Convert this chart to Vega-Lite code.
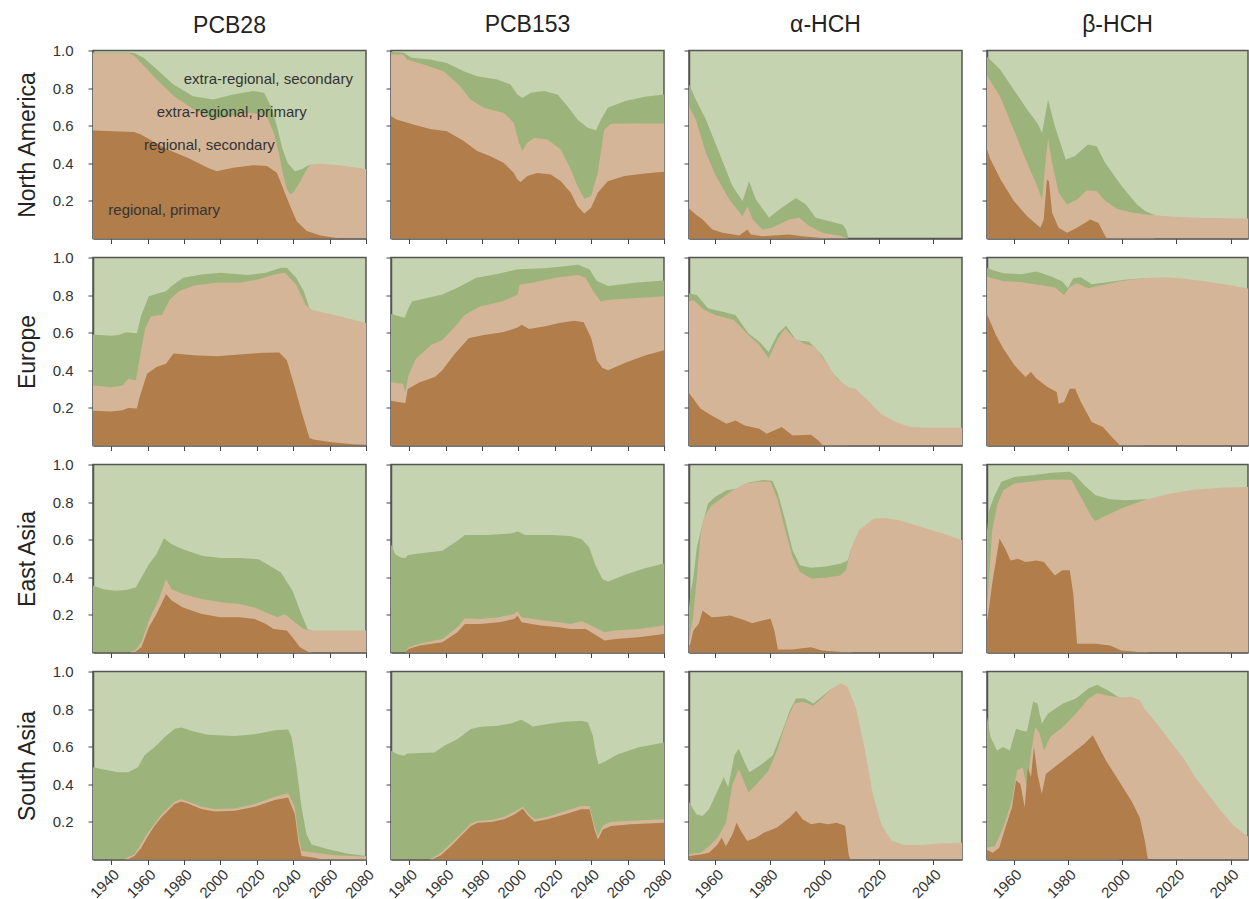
{
"$schema":"https://vega.github.io/schema/vega-lite/v6.json",
"padding":{"left":15,"top":12.5,"right":0,"bottom":0},
"background":"white",
"config":{"font":"Liberation Sans",
 "view":{"fill":"#c6d3b1","stroke":"#555","strokeWidth":1.5},
 "axis":{"domainColor":"#555","domainWidth":1.5,"tickColor":"#444","tickSize":5,"labelFontSize":15,"labelColor":"#333","labelFont":"Liberation Sans","titleFontSize":23,"titleFontWeight":"normal","titleColor":"#222","titleFont":"Liberation Sans","zindex":1,"grid":false},
 "axisY":{"labelPadding":15,"titlePadding":13},
 "title":{"fontSize":23,"fontWeight":"normal","color":"#222","font":"Liberation Sans","offset":13,"frame":"group"}},
"datasets":{
"labels":[{"label":"extra-regional, secondary","t":1979.8,"v":0.851},{"label":"extra-regional, primary","t":1965,"v":0.672},{"label":"regional, secondary","t":1958,"v":0.496},{"label":"regional, primary","t":1938.4,"v":0.15}],
"NA_PCB28":[
{"k":"g","t":1930,"v":0.99},{"k":"g","t":1950,"v":0.99},{"k":"g","t":1953,"v":0.985},{"k":"g","t":1958,"v":0.96},{"k":"g","t":1965,"v":0.9},{"k":"g","t":1974,"v":0.82},{"k":"g","t":1985,"v":0.757},{"k":"g","t":1996,"v":0.74},{"k":"g","t":2007,"v":0.766},{"k":"g","t":2018,"v":0.784},{"k":"g","t":2024,"v":0.775},{"k":"g","t":2028,"v":0.7},{"k":"g","t":2031,"v":0.6},{"k":"g","t":2034,"v":0.48},{"k":"g","t":2037,"v":0.4},{"k":"g","t":2041,"v":0.358},{"k":"g","t":2045,"v":0.37},{"k":"g","t":2049,"v":0.394},
{"k":"s","t":1930,"v":0.985},{"k":"s","t":1950,"v":0.985},{"k":"s","t":1953,"v":0.97},{"k":"s","t":1958,"v":0.917},{"k":"s","t":1965,"v":0.846},{"k":"s","t":1974.5,"v":0.757},{"k":"s","t":1985.5,"v":0.686},{"k":"s","t":1996.4,"v":0.633},{"k":"s","t":2003.7,"v":0.647},{"k":"s","t":2014.7,"v":0.669},{"k":"s","t":2023.8,"v":0.66},{"k":"s","t":2026,"v":0.64},{"k":"s","t":2029.3,"v":0.562},{"k":"s","t":2032,"v":0.46},{"k":"s","t":2034.7,"v":0.33},{"k":"s","t":2036.6,"v":0.26},{"k":"s","t":2038.5,"v":0.236},{"k":"s","t":2040,"v":0.245},{"k":"s","t":2043.8,"v":0.3},{"k":"s","t":2047,"v":0.36},{"k":"s","t":2049.3,"v":0.394},{"k":"s","t":2055,"v":0.398},{"k":"s","t":2065.7,"v":0.39},{"k":"s","t":2080,"v":0.37},
{"k":"p","t":1930,"v":0.574},{"k":"p","t":1952.5,"v":0.567},{"k":"p","t":1956,"v":0.555},{"k":"p","t":1971,"v":0.473},{"k":"p","t":1982,"v":0.43},{"k":"p","t":1993,"v":0.376},{"k":"p","t":1998,"v":0.358},{"k":"p","t":2007,"v":0.376},{"k":"p","t":2018,"v":0.39},{"k":"p","t":2025.6,"v":0.385},{"k":"p","t":2031,"v":0.35},{"k":"p","t":2034.7,"v":0.26},{"k":"p","t":2038.4,"v":0.17},{"k":"p","t":2042,"v":0.09},{"k":"p","t":2047.5,"v":0.04},{"k":"p","t":2055,"v":0.016},{"k":"p","t":2062,"v":0.005},{"k":"p","t":2066,"v":0}],
"NA_PCB153":[
{"k":"g","t":1930,"v":0.993},{"k":"g","t":1937,"v":0.988},{"k":"g","t":1941.4,"v":0.961},{"k":"g","t":1951.5,"v":0.952},{"k":"g","t":1960.7,"v":0.934},{"k":"g","t":1970,"v":0.89},{"k":"g","t":1977.3,"v":0.863},{"k":"g","t":1988.3,"v":0.846},{"k":"g","t":1995.7,"v":0.819},{"k":"g","t":1999.4,"v":0.766},{"k":"g","t":2002.2,"v":0.748},{"k":"g","t":2006.8,"v":0.775},{"k":"g","t":2014.1,"v":0.784},{"k":"g","t":2021.5,"v":0.766},{"k":"g","t":2027,"v":0.704},{"k":"g","t":2032.5,"v":0.633},{"k":"g","t":2038,"v":0.589},{"k":"g","t":2042.6,"v":0.576},{"k":"g","t":2045.4,"v":0.633},{"k":"g","t":2049.1,"v":0.695},{"k":"g","t":2058.3,"v":0.73},{"k":"g","t":2069.3,"v":0.754},{"k":"g","t":2080,"v":0.766},
{"k":"s","t":1930,"v":0.979},{"k":"s","t":1936.8,"v":0.979},{"k":"s","t":1938.7,"v":0.952},{"k":"s","t":1947.9,"v":0.926},{"k":"s","t":1958.9,"v":0.89},{"k":"s","t":1968.1,"v":0.81},{"k":"s","t":1973.6,"v":0.739},{"k":"s","t":1981,"v":0.695},{"k":"s","t":1992,"v":0.668},{"k":"s","t":1997.5,"v":0.615},{"k":"s","t":2000.3,"v":0.509},{"k":"s","t":2002.2,"v":0.465},{"k":"s","t":2004.9,"v":0.509},{"k":"s","t":2008.6,"v":0.535},{"k":"s","t":2015.9,"v":0.527},{"k":"s","t":2023.3,"v":0.473},{"k":"s","t":2028.8,"v":0.367},{"k":"s","t":2032.5,"v":0.278},{"k":"s","t":2036.2,"v":0.211},{"k":"s","t":2039.9,"v":0.225},{"k":"s","t":2043.6,"v":0.349},{"k":"s","t":2047.2,"v":0.58},{"k":"s","t":2050.9,"v":0.61},{"k":"s","t":2065.7,"v":0.612},{"k":"s","t":2080,"v":0.612},
{"k":"p","t":1930,"v":0.651},{"k":"p","t":1933,"v":0.633},{"k":"p","t":1942.3,"v":0.606},{"k":"p","t":1951.5,"v":0.583},{"k":"p","t":1960.7,"v":0.571},{"k":"p","t":1970,"v":0.518},{"k":"p","t":1977.3,"v":0.465},{"k":"p","t":1984.7,"v":0.438},{"k":"p","t":1992,"v":0.402},{"k":"p","t":1997.5,"v":0.349},{"k":"p","t":1999.4,"v":0.314},{"k":"p","t":2001.2,"v":0.3},{"k":"p","t":2004.9,"v":0.332},{"k":"p","t":2010.4,"v":0.349},{"k":"p","t":2017.8,"v":0.34},{"k":"p","t":2023.3,"v":0.305},{"k":"p","t":2028.8,"v":0.243},{"k":"p","t":2032.5,"v":0.172},{"k":"p","t":2036.2,"v":0.133},{"k":"p","t":2039.9,"v":0.163},{"k":"p","t":2043.6,"v":0.243},{"k":"p","t":2049.1,"v":0.305},{"k":"p","t":2058.3,"v":0.332},{"k":"p","t":2069.3,"v":0.346},{"k":"p","t":2080,"v":0.355}],
"NA_aHCH":[
{"k":"g","t":1950,"v":0.83},{"k":"g","t":1952.8,"v":0.739},{"k":"g","t":1956.5,"v":0.633},{"k":"g","t":1961.4,"v":0.456},{"k":"g","t":1966.3,"v":0.278},{"k":"g","t":1970,"v":0.199},{"k":"g","t":1972.4,"v":0.305},{"k":"g","t":1974.9,"v":0.207},{"k":"g","t":1979.8,"v":0.11},{"k":"g","t":1983.5,"v":0.154},{"k":"g","t":1989.6,"v":0.216},{"k":"g","t":1993.3,"v":0.181},{"k":"g","t":1996.9,"v":0.11},{"k":"g","t":2001.8,"v":0.092},{"k":"g","t":2006.7,"v":0.074},{"k":"g","t":2008,"v":0.05},{"k":"g","t":2009,"v":0},
{"k":"s","t":1950,"v":0.71},{"k":"s","t":1952.8,"v":0.633},{"k":"s","t":1956.5,"v":0.456},{"k":"s","t":1960.2,"v":0.332},{"k":"s","t":1965.1,"v":0.207},{"k":"s","t":1970,"v":0.119},{"k":"s","t":1971.8,"v":0.172},{"k":"s","t":1973.7,"v":0.101},{"k":"s","t":1977.3,"v":0.048},{"k":"s","t":1981,"v":0.057},{"k":"s","t":1987.1,"v":0.101},{"k":"s","t":1990.8,"v":0.11},{"k":"s","t":1994.5,"v":0.066},{"k":"s","t":1999.4,"v":0.03},{"k":"s","t":2005.5,"v":0.016},{"k":"s","t":2008,"v":0.004},{"k":"s","t":2009,"v":0},
{"k":"p","t":1950,"v":0.163},{"k":"p","t":1952.8,"v":0.128},{"k":"p","t":1955.3,"v":0.101},{"k":"p","t":1958.9,"v":0.048},{"k":"p","t":1962.6,"v":0.03},{"k":"p","t":1968.8,"v":0.016},{"k":"p","t":1971.8,"v":0.048},{"k":"p","t":1973,"v":0.021},{"k":"p","t":1977.3,"v":0.012},{"k":"p","t":1987.1,"v":0.021},{"k":"p","t":1992,"v":0.012},{"k":"p","t":1998.2,"v":0.004},{"k":"p","t":2000,"v":0}],
"NA_bHCH":[
{"k":"g","t":1950,"v":0.97},{"k":"g","t":1955,"v":0.9},{"k":"g","t":1960,"v":0.793},{"k":"g","t":1965,"v":0.686},{"k":"g","t":1968.7,"v":0.615},{"k":"g","t":1970.5,"v":0.562},{"k":"g","t":1972.7,"v":0.739},{"k":"g","t":1975.2,"v":0.598},{"k":"g","t":1979.2,"v":0.42},{"k":"g","t":1982.5,"v":0.438},{"k":"g","t":1987.4,"v":0.5},{"k":"g","t":1990.6,"v":0.491},{"k":"g","t":1993.8,"v":0.402},{"k":"g","t":1999.9,"v":0.278},{"k":"g","t":2005.5,"v":0.181},{"k":"g","t":2008.6,"v":0.145},{"k":"g","t":2012,"v":0.125},
{"k":"s","t":1950,"v":0.872},{"k":"s","t":1955.2,"v":0.75},{"k":"s","t":1960,"v":0.58},{"k":"s","t":1965,"v":0.402},{"k":"s","t":1968.7,"v":0.278},{"k":"s","t":1970.5,"v":0.207},{"k":"s","t":1971.5,"v":0.367},{"k":"s","t":1972.7,"v":0.535},{"k":"s","t":1974.2,"v":0.402},{"k":"s","t":1976.6,"v":0.243},{"k":"s","t":1979.7,"v":0.181},{"k":"s","t":1983.4,"v":0.207},{"k":"s","t":1987,"v":0.257},{"k":"s","t":1990.6,"v":0.252},{"k":"s","t":1993.8,"v":0.199},{"k":"s","t":1998.1,"v":0.158},{"k":"s","t":2003,"v":0.14},{"k":"s","t":2009,"v":0.128},{"k":"s","t":2016.5,"v":0.119},{"k":"s","t":2027.5,"v":0.11},{"k":"s","t":2047,"v":0.106},
{"k":"p","t":1950,"v":0.482},{"k":"p","t":1951.5,"v":0.42},{"k":"p","t":1955.2,"v":0.314},{"k":"p","t":1960.1,"v":0.199},{"k":"p","t":1965,"v":0.119},{"k":"p","t":1969.9,"v":0.057},{"k":"p","t":1971.1,"v":0.101},{"k":"p","t":1972.3,"v":0.314},{"k":"p","t":1973,"v":0.305},{"k":"p","t":1974.2,"v":0.137},{"k":"p","t":1976.6,"v":0.057},{"k":"p","t":1979.7,"v":0.03},{"k":"p","t":1983.4,"v":0.057},{"k":"p","t":1988.3,"v":0.101},{"k":"p","t":1991.3,"v":0.083},{"k":"p","t":1993.8,"v":0.012},{"k":"p","t":1994.5,"v":0}],
"EU_PCB28":[
{"k":"g","t":1930,"v":0.591},{"k":"g","t":1940,"v":0.584},{"k":"g","t":1944,"v":0.588},{"k":"g","t":1948.3,"v":0.602},{"k":"g","t":1954.1,"v":0.597},{"k":"g","t":1956.6,"v":0.695},{"k":"g","t":1960.7,"v":0.794},{"k":"g","t":1967,"v":0.812},{"k":"g","t":1970.1,"v":0.821},{"k":"g","t":1973.2,"v":0.848},{"k":"g","t":1979.5,"v":0.892},{"k":"g","t":1989.8,"v":0.91},{"k":"g","t":2000.2,"v":0.919},{"k":"g","t":2014.7,"v":0.907},{"k":"g","t":2025,"v":0.919},{"k":"g","t":2033.3,"v":0.946},{"k":"g","t":2036.5,"v":0.946},{"k":"g","t":2041.6,"v":0.892},{"k":"g","t":2045.8,"v":0.821},{"k":"g","t":2048.9,"v":0.731},{"k":"g","t":2050,"v":0.722},
{"k":"s","t":1930,"v":0.319},{"k":"s","t":1940,"v":0.31},{"k":"s","t":1946.2,"v":0.319},{"k":"s","t":1949.3,"v":0.355},{"k":"s","t":1953.5,"v":0.346},{"k":"s","t":1955.6,"v":0.462},{"k":"s","t":1958.7,"v":0.624},{"k":"s","t":1961.8,"v":0.686},{"k":"s","t":1968,"v":0.695},{"k":"s","t":1972.2,"v":0.776},{"k":"s","t":1977.3,"v":0.821},{"k":"s","t":1985.6,"v":0.851},{"k":"s","t":1998.1,"v":0.866},{"k":"s","t":2010.5,"v":0.866},{"k":"s","t":2020.9,"v":0.884},{"k":"s","t":2031.3,"v":0.914},{"k":"s","t":2035.4,"v":0.919},{"k":"s","t":2041.6,"v":0.857},{"k":"s","t":2046.8,"v":0.749},{"k":"s","t":2049.9,"v":0.722},{"k":"s","t":2064.5,"v":0.69},{"k":"s","t":2080,"v":0.651},
{"k":"p","t":1930,"v":0.185},{"k":"p","t":1940,"v":0.181},{"k":"p","t":1946.2,"v":0.188},{"k":"p","t":1949.3,"v":0.2},{"k":"p","t":1954.1,"v":0.197},{"k":"p","t":1955.6,"v":0.256},{"k":"p","t":1959.7,"v":0.382},{"k":"p","t":1964.9,"v":0.418},{"k":"p","t":1970.1,"v":0.435},{"k":"p","t":1974.2,"v":0.489},{"k":"p","t":1985.6,"v":0.48},{"k":"p","t":1998.1,"v":0.475},{"k":"p","t":2010.5,"v":0.484},{"k":"p","t":2023,"v":0.493},{"k":"p","t":2032.3,"v":0.495},{"k":"p","t":2036.5,"v":0.453},{"k":"p","t":2040.6,"v":0.319},{"k":"p","t":2044.7,"v":0.176},{"k":"p","t":2048.9,"v":0.041},{"k":"p","t":2051,"v":0.032},{"k":"p","t":2060.3,"v":0.018},{"k":"p","t":2072.8,"v":0.007},{"k":"p","t":2080,"v":0.004}],
"EU_PCB153":[
{"k":"g","t":1930,"v":0.7},{"k":"g","t":1933.4,"v":0.69},{"k":"g","t":1937.5,"v":0.68},{"k":"g","t":1939.6,"v":0.731},{"k":"g","t":1941.7,"v":0.767},{"k":"g","t":1949.9,"v":0.785},{"k":"g","t":1958.2,"v":0.803},{"k":"g","t":1966.5,"v":0.839},{"k":"g","t":1976.9,"v":0.892},{"k":"g","t":1987.2,"v":0.91},{"k":"g","t":1999.6,"v":0.937},{"k":"g","t":2014.1,"v":0.943},{"k":"g","t":2026.6,"v":0.955},{"k":"g","t":2032.8,"v":0.961},{"k":"g","t":2039,"v":0.937},{"k":"g","t":2043.1,"v":0.875},{"k":"g","t":2049.3,"v":0.848},{"k":"g","t":2063.8,"v":0.866},{"k":"g","t":2080,"v":0.878},
{"k":"s","t":1930,"v":0.337},{"k":"s","t":1936.5,"v":0.328},{"k":"s","t":1937.9,"v":0.283},{"k":"s","t":1939.6,"v":0.373},{"k":"s","t":1943.7,"v":0.462},{"k":"s","t":1952,"v":0.534},{"k":"s","t":1958.2,"v":0.561},{"k":"s","t":1964.4,"v":0.624},{"k":"s","t":1970.6,"v":0.695},{"k":"s","t":1978.9,"v":0.74},{"k":"s","t":1991.4,"v":0.767},{"k":"s","t":1999.6,"v":0.803},{"k":"s","t":2000.7,"v":0.857},{"k":"s","t":2007.9,"v":0.866},{"k":"s","t":2020.3,"v":0.892},{"k":"s","t":2032.8,"v":0.907},{"k":"s","t":2036.9,"v":0.892},{"k":"s","t":2041.1,"v":0.821},{"k":"s","t":2045.2,"v":0.767},{"k":"s","t":2051.4,"v":0.776},{"k":"s","t":2065.9,"v":0.785},{"k":"s","t":2080,"v":0.794},
{"k":"p","t":1930,"v":0.238},{"k":"p","t":1935.4,"v":0.229},{"k":"p","t":1937.9,"v":0.226},{"k":"p","t":1939.2,"v":0.301},{"k":"p","t":1945.8,"v":0.337},{"k":"p","t":1954.1,"v":0.364},{"k":"p","t":1958.2,"v":0.4},{"k":"p","t":1964.4,"v":0.48},{"k":"p","t":1972.7,"v":0.57},{"k":"p","t":1981,"v":0.588},{"k":"p","t":1991.4,"v":0.602},{"k":"p","t":1999.6,"v":0.627},{"k":"p","t":2001.7,"v":0.642},{"k":"p","t":2005.9,"v":0.62},{"k":"p","t":2014.1,"v":0.633},{"k":"p","t":2022.4,"v":0.651},{"k":"p","t":2030.7,"v":0.663},{"k":"p","t":2035.9,"v":0.656},{"k":"p","t":2040,"v":0.57},{"k":"p","t":2043.1,"v":0.453},{"k":"p","t":2046.2,"v":0.412},{"k":"p","t":2049.3,"v":0.4},{"k":"p","t":2059.7,"v":0.444},{"k":"p","t":2070,"v":0.48},{"k":"p","t":2080,"v":0.507}],
"EU_aHCH":[
{"k":"g","t":1950,"v":0.81},{"k":"g","t":1953.2,"v":0.801},{"k":"g","t":1957.3,"v":0.73},{"k":"g","t":1962.7,"v":0.712},{"k":"g","t":1967.4,"v":0.694},{"k":"g","t":1972.2,"v":0.596},{"k":"g","t":1976.2,"v":0.552},{"k":"g","t":1979.6,"v":0.498},{"k":"g","t":1983,"v":0.596},{"k":"g","t":1986,"v":0.637},{"k":"g","t":1989.8,"v":0.56},{"k":"g","t":1994.5,"v":0.552},{"k":"g","t":1999.2,"v":0.48},{"k":"g","t":2003.3,"v":0.383},{"k":"g","t":2007.4,"v":0.32},{"k":"g","t":2008.7,"v":0.311},
{"k":"s","t":1950,"v":0.765},{"k":"s","t":1951.9,"v":0.774},{"k":"s","t":1955.9,"v":0.721},{"k":"s","t":1960,"v":0.694},{"k":"s","t":1966.8,"v":0.667},{"k":"s","t":1972.2,"v":0.587},{"k":"s","t":1976.2,"v":0.534},{"k":"s","t":1979.6,"v":0.463},{"k":"s","t":1983,"v":0.569},{"k":"s","t":1985.7,"v":0.623},{"k":"s","t":1988.4,"v":0.578},{"k":"s","t":1992.5,"v":0.543},{"k":"s","t":1996.5,"v":0.525},{"k":"s","t":2000.6,"v":0.445},{"k":"s","t":2004.7,"v":0.356},{"k":"s","t":2008.7,"v":0.311},{"k":"s","t":2011.4,"v":0.302},{"k":"s","t":2015.5,"v":0.249},{"k":"s","t":2020.9,"v":0.169},{"k":"s","t":2026.3,"v":0.125},{"k":"s","t":2031.7,"v":0.098},{"k":"s","t":2038.5,"v":0.094},{"k":"s","t":2051,"v":0.094},
{"k":"p","t":1950,"v":0.285},{"k":"p","t":1951.9,"v":0.249},{"k":"p","t":1954.6,"v":0.196},{"k":"p","t":1958.6,"v":0.16},{"k":"p","t":1964.1,"v":0.116},{"k":"p","t":1967.4,"v":0.133},{"k":"p","t":1970.8,"v":0.107},{"k":"p","t":1976.2,"v":0.089},{"k":"p","t":1978.9,"v":0.062},{"k":"p","t":1984.4,"v":0.098},{"k":"p","t":1988.4,"v":0.053},{"k":"p","t":1995.2,"v":0.057},{"k":"p","t":1997.9,"v":0.027},{"k":"p","t":1999.5,"v":0}],
"EU_bHCH":[
{"k":"g","t":1950,"v":0.947},{"k":"g","t":1952.1,"v":0.934},{"k":"g","t":1956.2,"v":0.916},{"k":"g","t":1963,"v":0.911},{"k":"g","t":1968.4,"v":0.925},{"k":"g","t":1973.9,"v":0.899},{"k":"g","t":1978,"v":0.872},{"k":"g","t":1980,"v":0.836},{"k":"g","t":1982,"v":0.89},{"k":"g","t":1984.8,"v":0.895},{"k":"g","t":1988.8,"v":0.858},{"k":"g","t":1994.3,"v":0.868},{"k":"g","t":2001.1,"v":0.881},{"k":"g","t":2007.9,"v":0.89},
{"k":"s","t":1950,"v":0.899},{"k":"s","t":1956.2,"v":0.875},{"k":"s","t":1963,"v":0.868},{"k":"s","t":1969.8,"v":0.854},{"k":"s","t":1975.2,"v":0.84},{"k":"s","t":1978.6,"v":0.801},{"k":"s","t":1980.7,"v":0.845},{"k":"s","t":1983.4,"v":0.863},{"k":"s","t":1987.5,"v":0.836},{"k":"s","t":1992.9,"v":0.854},{"k":"s","t":1999.7,"v":0.875},{"k":"s","t":2007.9,"v":0.89},{"k":"s","t":2014.7,"v":0.895},{"k":"s","t":2021.5,"v":0.89},{"k":"s","t":2029.7,"v":0.875},{"k":"s","t":2037.8,"v":0.858},{"k":"s","t":2047,"v":0.833},
{"k":"p","t":1950,"v":0.703},{"k":"p","t":1951.4,"v":0.658},{"k":"p","t":1953.5,"v":0.587},{"k":"p","t":1956.2,"v":0.516},{"k":"p","t":1960.3,"v":0.427},{"k":"p","t":1964.4,"v":0.365},{"k":"p","t":1966.4,"v":0.391},{"k":"p","t":1968.4,"v":0.356},{"k":"p","t":1972.5,"v":0.311},{"k":"p","t":1975.9,"v":0.285},{"k":"p","t":1976.6,"v":0.222},{"k":"p","t":1978.6,"v":0.231},{"k":"p","t":1980.7,"v":0.302},{"k":"p","t":1982.7,"v":0.302},{"k":"p","t":1984.8,"v":0.231},{"k":"p","t":1988.8,"v":0.125},{"k":"p","t":1992.9,"v":0.098},{"k":"p","t":1996.3,"v":0.044},{"k":"p","t":1999,"v":0.004},{"k":"p","t":2000,"v":0}],
"EA_PCB28":[
{"k":"g","t":1930,"v":0.355},{"k":"g","t":1935.9,"v":0.337},{"k":"g","t":1942.1,"v":0.329},{"k":"g","t":1948.3,"v":0.332},{"k":"g","t":1953.5,"v":0.346},{"k":"g","t":1956.6,"v":0.399},{"k":"g","t":1960.7,"v":0.47},{"k":"g","t":1964.9,"v":0.523},{"k":"g","t":1969,"v":0.608},{"k":"g","t":1973.2,"v":0.576},{"k":"g","t":1979.4,"v":0.549},{"k":"g","t":1989.8,"v":0.514},{"k":"g","t":2000.2,"v":0.502},{"k":"g","t":2010.5,"v":0.502},{"k":"g","t":2020.9,"v":0.496},{"k":"g","t":2027.1,"v":0.461},{"k":"g","t":2033.3,"v":0.426},{"k":"g","t":2039.6,"v":0.329},{"k":"g","t":2043.7,"v":0.223},{"k":"g","t":2047.9,"v":0.125},{"k":"g","t":2050.3,"v":0.117},
{"k":"s","t":1950,"v":0},{"k":"s","t":1953.5,"v":0.014},{"k":"s","t":1956.6,"v":0.055},{"k":"s","t":1960.7,"v":0.17},{"k":"s","t":1965.9,"v":0.276},{"k":"s","t":1970.1,"v":0.39},{"k":"s","t":1973.2,"v":0.337},{"k":"s","t":1979.4,"v":0.311},{"k":"s","t":1989.8,"v":0.284},{"k":"s","t":2000.2,"v":0.267},{"k":"s","t":2010.5,"v":0.258},{"k":"s","t":2018.8,"v":0.24},{"k":"s","t":2027.1,"v":0.205},{"k":"s","t":2031.3,"v":0.187},{"k":"s","t":2035.4,"v":0.205},{"k":"s","t":2039.6,"v":0.17},{"k":"s","t":2045.8,"v":0.125},{"k":"s","t":2049.9,"v":0.117},{"k":"s","t":2068.6,"v":0.117},{"k":"s","t":2080,"v":0.117},
{"k":"p","t":1952,"v":0},{"k":"p","t":1953.5,"v":0.005},{"k":"p","t":1956.6,"v":0.028},{"k":"p","t":1960.7,"v":0.134},{"k":"p","t":1964.9,"v":0.205},{"k":"p","t":1968,"v":0.267},{"k":"p","t":1970.1,"v":0.311},{"k":"p","t":1973.2,"v":0.276},{"k":"p","t":1979.4,"v":0.24},{"k":"p","t":1989.8,"v":0.205},{"k":"p","t":2000.2,"v":0.187},{"k":"p","t":2010.5,"v":0.187},{"k":"p","t":2018.8,"v":0.178},{"k":"p","t":2025,"v":0.152},{"k":"p","t":2029.2,"v":0.125},{"k":"p","t":2036.5,"v":0.117},{"k":"p","t":2039.6,"v":0.081},{"k":"p","t":2043.7,"v":0.028},{"k":"p","t":2047.9,"v":0.005},{"k":"p","t":2049,"v":0}],
"EA_PCB153":[
{"k":"g","t":1930,"v":0.576},{"k":"g","t":1932.3,"v":0.523},{"k":"g","t":1935.4,"v":0.505},{"k":"g","t":1937.9,"v":0.502},{"k":"g","t":1939.2,"v":0.519},{"k":"g","t":1949.9,"v":0.532},{"k":"g","t":1958.2,"v":0.541},{"k":"g","t":1966.5,"v":0.594},{"k":"g","t":1970.6,"v":0.625},{"k":"g","t":1983.1,"v":0.625},{"k":"g","t":1995.5,"v":0.633},{"k":"g","t":1999.6,"v":0.643},{"k":"g","t":2003.8,"v":0.625},{"k":"g","t":2018.3,"v":0.625},{"k":"g","t":2028.6,"v":0.62},{"k":"g","t":2034.8,"v":0.602},{"k":"g","t":2039,"v":0.558},{"k":"g","t":2042.1,"v":0.47},{"k":"g","t":2046.2,"v":0.39},{"k":"g","t":2049.3,"v":0.378},{"k":"g","t":2059.7,"v":0.417},{"k":"g","t":2070,"v":0.449},{"k":"g","t":2080,"v":0.473},
{"k":"s","t":1938,"v":0},{"k":"s","t":1939.6,"v":0.028},{"k":"s","t":1945.8,"v":0.046},{"k":"s","t":1958.2,"v":0.072},{"k":"s","t":1966.5,"v":0.134},{"k":"s","t":1970.6,"v":0.182},{"k":"s","t":1978.9,"v":0.178},{"k":"s","t":1989.3,"v":0.187},{"k":"s","t":1997.6,"v":0.205},{"k":"s","t":1999.6,"v":0.219},{"k":"s","t":2001.7,"v":0.187},{"k":"s","t":2012.1,"v":0.173},{"k":"s","t":2022.4,"v":0.161},{"k":"s","t":2028.6,"v":0.152},{"k":"s","t":2034.8,"v":0.166},{"k":"s","t":2040,"v":0.143},{"k":"s","t":2047.3,"v":0.108},{"k":"s","t":2053.5,"v":0.117},{"k":"s","t":2065.9,"v":0.125},{"k":"s","t":2080,"v":0.143},
{"k":"p","t":1938,"v":0},{"k":"p","t":1939.6,"v":0.019},{"k":"p","t":1945.8,"v":0.037},{"k":"p","t":1958.2,"v":0.055},{"k":"p","t":1966.5,"v":0.108},{"k":"p","t":1970.6,"v":0.152},{"k":"p","t":1978.9,"v":0.152},{"k":"p","t":1989.3,"v":0.161},{"k":"p","t":1997.6,"v":0.178},{"k":"p","t":1999.6,"v":0.196},{"k":"p","t":2001.7,"v":0.161},{"k":"p","t":2012.1,"v":0.143},{"k":"p","t":2022.4,"v":0.134},{"k":"p","t":2028.6,"v":0.125},{"k":"p","t":2036.9,"v":0.125},{"k":"p","t":2040,"v":0.108},{"k":"p","t":2047.3,"v":0.064},{"k":"p","t":2053.5,"v":0.072},{"k":"p","t":2065.9,"v":0.081},{"k":"p","t":2080,"v":0.099}],
"EA_aHCH":[
{"k":"g","t":1950,"v":0.2},{"k":"g","t":1950.8,"v":0.31},{"k":"g","t":1951.9,"v":0.4},{"k":"g","t":1953.2,"v":0.561},{"k":"g","t":1955.3,"v":0.686},{"k":"g","t":1957.3,"v":0.792},{"k":"g","t":1960,"v":0.828},{"k":"g","t":1964.1,"v":0.863},{"k":"g","t":1968.1,"v":0.872},{"k":"g","t":1972.2,"v":0.904},{"k":"g","t":1977.6,"v":0.917},{"k":"g","t":1981,"v":0.913},{"k":"g","t":1983,"v":0.846},{"k":"g","t":1985.7,"v":0.703},{"k":"g","t":1988.4,"v":0.544},{"k":"g","t":1991.1,"v":0.464},{"k":"g","t":1995.2,"v":0.451},{"k":"g","t":2000.6,"v":0.458},{"k":"g","t":2006,"v":0.472},{"k":"g","t":2008.7,"v":0.49},{"k":"g","t":2010.1,"v":0.561},
{"k":"s","t":1950,"v":0.03},{"k":"s","t":1951.9,"v":0.2},{"k":"s","t":1953.2,"v":0.4},{"k":"s","t":1954.6,"v":0.632},{"k":"s","t":1955.9,"v":0.721},{"k":"s","t":1958.6,"v":0.783},{"k":"s","t":1961.4,"v":0.81},{"k":"s","t":1965.4,"v":0.854},{"k":"s","t":1970.8,"v":0.899},{"k":"s","t":1976.2,"v":0.908},{"k":"s","t":1980.3,"v":0.908},{"k":"s","t":1983,"v":0.81},{"k":"s","t":1985.7,"v":0.65},{"k":"s","t":1988.4,"v":0.508},{"k":"s","t":1991.1,"v":0.428},{"k":"s","t":1995.2,"v":0.393},{"k":"s","t":2000.6,"v":0.398},{"k":"s","t":2006,"v":0.41},{"k":"s","t":2008,"v":0.437},{"k":"s","t":2010.1,"v":0.561},{"k":"s","t":2012.8,"v":0.65},{"k":"s","t":2018.2,"v":0.712},{"k":"s","t":2022.2,"v":0.716},{"k":"s","t":2027.7,"v":0.703},{"k":"s","t":2035.8,"v":0.668},{"k":"s","t":2043.9,"v":0.632},{"k":"s","t":2051,"v":0.595},
{"k":"p","t":1950,"v":0.03},{"k":"p","t":1950.8,"v":0.046},{"k":"p","t":1951.9,"v":0.117},{"k":"p","t":1953.9,"v":0.153},{"k":"p","t":1955.3,"v":0.224},{"k":"p","t":1958.6,"v":0.188},{"k":"p","t":1962.7,"v":0.192},{"k":"p","t":1965.4,"v":0.197},{"k":"p","t":1970.8,"v":0.171},{"k":"p","t":1973.5,"v":0.156},{"k":"p","t":1977.6,"v":0.171},{"k":"p","t":1980.3,"v":0.179},{"k":"p","t":1981.7,"v":0.117},{"k":"p","t":1983,"v":0.016},{"k":"p","t":1988.4,"v":0.016},{"k":"p","t":1995.2,"v":0.028},{"k":"p","t":1999.2,"v":0.011},{"k":"p","t":2006,"v":0.004},{"k":"p","t":2007,"v":0}],
"EA_bHCH":[
{"k":"g","t":1950,"v":0.62},{"k":"g","t":1951,"v":0.757},{"k":"g","t":1952.8,"v":0.828},{"k":"g","t":1955.5,"v":0.908},{"k":"g","t":1960.3,"v":0.934},{"k":"g","t":1967.1,"v":0.943},{"k":"g","t":1973.9,"v":0.956},{"k":"g","t":1980.7,"v":0.961},{"k":"g","t":1982.7,"v":0.943},{"k":"g","t":1986.1,"v":0.89},{"k":"g","t":1990.2,"v":0.837},{"k":"g","t":1995.6,"v":0.815},{"k":"g","t":2001.1,"v":0.81},{"k":"g","t":2007.9,"v":0.815},{"k":"g","t":2009.5,"v":0.815},
{"k":"s","t":1950,"v":0.18},{"k":"s","t":1951,"v":0.401},{"k":"s","t":1952.1,"v":0.65},{"k":"s","t":1954.1,"v":0.792},{"k":"s","t":1956.2,"v":0.863},{"k":"s","t":1960.3,"v":0.899},{"k":"s","t":1965.7,"v":0.908},{"k":"s","t":1971.2,"v":0.917},{"k":"s","t":1978,"v":0.92},{"k":"s","t":1981.4,"v":0.917},{"k":"s","t":1983.4,"v":0.863},{"k":"s","t":1986.1,"v":0.792},{"k":"s","t":1988.8,"v":0.721},{"k":"s","t":1990.2,"v":0.7},{"k":"s","t":1992.9,"v":0.721},{"k":"s","t":1999.7,"v":0.766},{"k":"s","t":2007.9,"v":0.81},{"k":"s","t":2017.4,"v":0.845},{"k":"s","t":2026.9,"v":0.867},{"k":"s","t":2037.8,"v":0.877},{"k":"s","t":2047,"v":0.881},
{"k":"p","t":1950,"v":0.15},{"k":"p","t":1951,"v":0.242},{"k":"p","t":1952.1,"v":0.366},{"k":"p","t":1953.5,"v":0.49},{"k":"p","t":1954.8,"v":0.606},{"k":"p","t":1956.9,"v":0.552},{"k":"p","t":1958.9,"v":0.49},{"k":"p","t":1961.6,"v":0.499},{"k":"p","t":1964.4,"v":0.481},{"k":"p","t":1968.4,"v":0.49},{"k":"p","t":1971.2,"v":0.481},{"k":"p","t":1975.2,"v":0.41},{"k":"p","t":1978,"v":0.437},{"k":"p","t":1980.7,"v":0.437},{"k":"p","t":1982,"v":0.313},{"k":"p","t":1983.4,"v":0.046},{"k":"p","t":1990.2,"v":0.046},{"k":"p","t":1995.6,"v":0.037},{"k":"p","t":1999.7,"v":0.011},{"k":"p","t":2005.2,"v":0.004},{"k":"p","t":2006,"v":0}],
"SA_PCB28":[
{"k":"g","t":1930,"v":0.491},{"k":"g","t":1934.5,"v":0.482},{"k":"g","t":1943.7,"v":0.464},{"k":"g","t":1949.2,"v":0.464},{"k":"g","t":1954.7,"v":0.491},{"k":"g","t":1958.3,"v":0.554},{"k":"g","t":1963.9,"v":0.598},{"k":"g","t":1969.4,"v":0.652},{"k":"g","t":1974.9,"v":0.696},{"k":"g","t":1978.5,"v":0.702},{"k":"g","t":1985.9,"v":0.679},{"k":"g","t":1993.2,"v":0.664},{"k":"g","t":2007.9,"v":0.657},{"k":"g","t":2018.9,"v":0.666},{"k":"g","t":2029.9,"v":0.688},{"k":"g","t":2037.2,"v":0.691},{"k":"g","t":2039.1,"v":0.652},{"k":"g","t":2041.8,"v":0.491},{"k":"g","t":2044.6,"v":0.277},{"k":"g","t":2047.3,"v":0.134},{"k":"g","t":2050.1,"v":0.08},{"k":"g","t":2059.3,"v":0.054},{"k":"g","t":2070.3,"v":0.03},{"k":"g","t":2080,"v":0.018},
{"k":"s","t":1947,"v":0},{"k":"s","t":1949.2,"v":0.012},{"k":"s","t":1952.8,"v":0.027},{"k":"s","t":1960.2,"v":0.143},{"k":"s","t":1967.5,"v":0.238},{"k":"s","t":1974.9,"v":0.309},{"k":"s","t":1978.5,"v":0.321},{"k":"s","t":1982.2,"v":0.309},{"k":"s","t":1989.5,"v":0.28},{"k":"s","t":1996.9,"v":0.268},{"k":"s","t":2007.9,"v":0.271},{"k":"s","t":2018.9,"v":0.295},{"k":"s","t":2029.9,"v":0.334},{"k":"s","t":2037.2,"v":0.352},{"k":"s","t":2040.9,"v":0.277},{"k":"s","t":2042.8,"v":0.134},{"k":"s","t":2044.6,"v":0.045},{"k":"s","t":2051.9,"v":0.036},{"k":"s","t":2062.9,"v":0.023},{"k":"s","t":2072.1,"v":0.018},{"k":"s","t":2080,"v":0.016},
{"k":"p","t":1949,"v":0},{"k":"p","t":1952.8,"v":0.018},{"k":"p","t":1956.5,"v":0.063},{"k":"p","t":1960.2,"v":0.125},{"k":"p","t":1963.9,"v":0.179},{"k":"p","t":1967.5,"v":0.223},{"k":"p","t":1971.2,"v":0.259},{"k":"p","t":1974.9,"v":0.295},{"k":"p","t":1978.5,"v":0.309},{"k":"p","t":1982.2,"v":0.298},{"k":"p","t":1989.5,"v":0.268},{"k":"p","t":1996.9,"v":0.255},{"k":"p","t":2007.9,"v":0.259},{"k":"p","t":2018.9,"v":0.28},{"k":"p","t":2029.9,"v":0.316},{"k":"p","t":2037.2,"v":0.33},{"k":"p","t":2040.9,"v":0.241},{"k":"p","t":2042.8,"v":0.098},{"k":"p","t":2044.6,"v":0.018},{"k":"p","t":2051.9,"v":0.009},{"k":"p","t":2055.6,"v":0}],
"SA_PCB153":[
{"k":"g","t":1930,"v":0.578},{"k":"g","t":1933.6,"v":0.56},{"k":"g","t":1937.2,"v":0.552},{"k":"g","t":1939.1,"v":0.564},{"k":"g","t":1946.4,"v":0.566},{"k":"g","t":1953.8,"v":0.569},{"k":"g","t":1959.3,"v":0.605},{"k":"g","t":1966.6,"v":0.641},{"k":"g","t":1973.9,"v":0.694},{"k":"g","t":1979.4,"v":0.706},{"k":"g","t":1988.6,"v":0.712},{"k":"g","t":1996,"v":0.724},{"k":"g","t":2001.5,"v":0.744},{"k":"g","t":2004.2,"v":0.73},{"k":"g","t":2007.9,"v":0.708},{"k":"g","t":2016.1,"v":0.721},{"k":"g","t":2025.3,"v":0.733},{"k":"g","t":2034.5,"v":0.738},{"k":"g","t":2038.2,"v":0.73},{"k":"g","t":2040.9,"v":0.658},{"k":"g","t":2042.8,"v":0.552},{"k":"g","t":2044,"v":0.507},{"k":"g","t":2047.3,"v":0.52},{"k":"g","t":2054.7,"v":0.56},{"k":"g","t":2065.7,"v":0.596},{"k":"g","t":2080,"v":0.623},
{"k":"s","t":1951,"v":0},{"k":"s","t":1952,"v":0.004},{"k":"s","t":1957.4,"v":0.036},{"k":"s","t":1962.9,"v":0.085},{"k":"s","t":1968.4,"v":0.137},{"k":"s","t":1973.9,"v":0.192},{"k":"s","t":1977.6,"v":0.205},{"k":"s","t":1985,"v":0.21},{"k":"s","t":1992.3,"v":0.228},{"k":"s","t":1997.8,"v":0.254},{"k":"s","t":2002.4,"v":0.281},{"k":"s","t":2005.1,"v":0.249},{"k":"s","t":2008.8,"v":0.214},{"k":"s","t":2016.1,"v":0.228},{"k":"s","t":2025.3,"v":0.256},{"k":"s","t":2034.5,"v":0.285},{"k":"s","t":2039.1,"v":0.285},{"k":"s","t":2041.8,"v":0.178},{"k":"s","t":2043.7,"v":0.125},{"k":"s","t":2046.4,"v":0.181},{"k":"s","t":2051,"v":0.201},{"k":"s","t":2062,"v":0.206},{"k":"s","t":2080,"v":0.214},
{"k":"p","t":1952,"v":0},{"k":"p","t":1953.8,"v":0.005},{"k":"p","t":1957.4,"v":0.023},{"k":"p","t":1962.9,"v":0.071},{"k":"p","t":1968.4,"v":0.125},{"k":"p","t":1973.9,"v":0.178},{"k":"p","t":1977.6,"v":0.196},{"k":"p","t":1985,"v":0.199},{"k":"p","t":1992.3,"v":0.214},{"k":"p","t":1997.8,"v":0.24},{"k":"p","t":2002.4,"v":0.27},{"k":"p","t":2005.1,"v":0.235},{"k":"p","t":2008.8,"v":0.201},{"k":"p","t":2016.1,"v":0.214},{"k":"p","t":2025.3,"v":0.24},{"k":"p","t":2034.5,"v":0.267},{"k":"p","t":2039.1,"v":0.267},{"k":"p","t":2041.8,"v":0.16},{"k":"p","t":2043.7,"v":0.107},{"k":"p","t":2046.4,"v":0.16},{"k":"p","t":2051,"v":0.178},{"k":"p","t":2062,"v":0.187},{"k":"p","t":2080,"v":0.196}],
"SA_aHCH":[
{"k":"g","t":1950,"v":0.313},{"k":"g","t":1953,"v":0.241},{"k":"g","t":1955.3,"v":0.232},{"k":"g","t":1957.7,"v":0.268},{"k":"g","t":1960.8,"v":0.366},{"k":"g","t":1963.1,"v":0.438},{"k":"g","t":1964.7,"v":0.384},{"k":"g","t":1967,"v":0.554},{"k":"g","t":1968.6,"v":0.589},{"k":"g","t":1971,"v":0.509},{"k":"g","t":1972.5,"v":0.464},{"k":"g","t":1976.4,"v":0.5},{"k":"g","t":1981.1,"v":0.554},{"k":"g","t":1984.3,"v":0.67},{"k":"g","t":1987.4,"v":0.795},{"k":"g","t":1989.7,"v":0.857},{"k":"g","t":1992.9,"v":0.857},{"k":"g","t":1996,"v":0.83},{"k":"g","t":1999.1,"v":0.866},{"k":"g","t":2001.5,"v":0.893},{"k":"g","t":2003,"v":0.911},
{"k":"s","t":1950,"v":0.027},{"k":"s","t":1954.5,"v":0.036},{"k":"s","t":1957.7,"v":0.071},{"k":"s","t":1960.8,"v":0.116},{"k":"s","t":1963.9,"v":0.196},{"k":"s","t":1966.3,"v":0.4},{"k":"s","t":1968.6,"v":0.48},{"k":"s","t":1972.2,"v":0.357},{"k":"s","t":1976.4,"v":0.42},{"k":"s","t":1979.6,"v":0.473},{"k":"s","t":1982.7,"v":0.58},{"k":"s","t":1985.8,"v":0.723},{"k":"s","t":1989,"v":0.83},{"k":"s","t":1992.1,"v":0.839},{"k":"s","t":1996,"v":0.818},{"k":"s","t":1999.1,"v":0.857},{"k":"s","t":2003,"v":0.911},{"k":"s","t":2006.2,"v":0.938},{"k":"s","t":2008.5,"v":0.92},{"k":"s","t":2011.6,"v":0.813},{"k":"s","t":2014.8,"v":0.598},{"k":"s","t":2017.9,"v":0.348},{"k":"s","t":2021,"v":0.188},{"k":"s","t":2024.9,"v":0.098},{"k":"s","t":2029.6,"v":0.077},{"k":"s","t":2035.9,"v":0.077},{"k":"s","t":2043.7,"v":0.086},{"k":"s","t":2051,"v":0.089},
{"k":"p","t":1950,"v":0.018},{"k":"p","t":1954.5,"v":0.027},{"k":"p","t":1957.7,"v":0.036},{"k":"p","t":1960.8,"v":0.08},{"k":"p","t":1962.3,"v":0.116},{"k":"p","t":1963.9,"v":0.071},{"k":"p","t":1966.3,"v":0.134},{"k":"p","t":1967.8,"v":0.196},{"k":"p","t":1969.4,"v":0.152},{"k":"p","t":1971.7,"v":0.098},{"k":"p","t":1974.9,"v":0.116},{"k":"p","t":1978,"v":0.143},{"k":"p","t":1982.7,"v":0.17},{"k":"p","t":1987.4,"v":0.223},{"k":"p","t":1989.7,"v":0.259},{"k":"p","t":1992.1,"v":0.214},{"k":"p","t":1995.2,"v":0.188},{"k":"p","t":1998.3,"v":0.196},{"k":"p","t":2001.5,"v":0.188},{"k":"p","t":2004.6,"v":0.196},{"k":"p","t":2007.7,"v":0.179},{"k":"p","t":2009,"v":0.027},{"k":"p","t":2009.6,"v":0}],
"SA_bHCH":[
{"k":"g","t":1950,"v":0.777},{"k":"g","t":1951.5,"v":0.652},{"k":"g","t":1953.9,"v":0.58},{"k":"g","t":1956.2,"v":0.598},{"k":"g","t":1958.6,"v":0.58},{"k":"g","t":1960.9,"v":0.696},{"k":"g","t":1962.5,"v":0.688},{"k":"g","t":1964.9,"v":0.679},{"k":"g","t":1967.2,"v":0.839},{"k":"g","t":1968.8,"v":0.83},{"k":"g","t":1970.4,"v":0.723},{"k":"g","t":1972.7,"v":0.777},{"k":"g","t":1978.2,"v":0.83},{"k":"g","t":1983,"v":0.857},{"k":"g","t":1987.7,"v":0.911},{"k":"g","t":1990.8,"v":0.929},{"k":"g","t":1995.5,"v":0.893},{"k":"g","t":1998.7,"v":0.863},
{"k":"s","t":1950,"v":0.063},{"k":"s","t":1953.1,"v":0.071},{"k":"s","t":1956.2,"v":0.17},{"k":"s","t":1959.4,"v":0.313},{"k":"s","t":1961.3,"v":0.473},{"k":"s","t":1963.3,"v":0.491},{"k":"s","t":1964.9,"v":0.384},{"k":"s","t":1966.4,"v":0.563},{"k":"s","t":1968,"v":0.705},{"k":"s","t":1969.6,"v":0.67},{"k":"s","t":1971.2,"v":0.58},{"k":"s","t":1973.5,"v":0.652},{"k":"s","t":1978.2,"v":0.705},{"k":"s","t":1983,"v":0.777},{"k":"s","t":1987.7,"v":0.857},{"k":"s","t":1990.8,"v":0.884},{"k":"s","t":1995.5,"v":0.87},{"k":"s","t":1998.7,"v":0.863},{"k":"s","t":2003.4,"v":0.866},{"k":"s","t":2006.5,"v":0.848},{"k":"s","t":2008.1,"v":0.804},{"k":"s","t":2012.8,"v":0.723},{"k":"s","t":2017.5,"v":0.634},{"k":"s","t":2022.3,"v":0.545},{"k":"s","t":2027,"v":0.438},{"k":"s","t":2031.7,"v":0.348},{"k":"s","t":2036.4,"v":0.259},{"k":"s","t":2041.1,"v":0.179},{"k":"s","t":2047,"v":0.116},
{"k":"p","t":1950,"v":0.054},{"k":"p","t":1952.3,"v":0.036},{"k":"p","t":1954.7,"v":0.063},{"k":"p","t":1957,"v":0.17},{"k":"p","t":1959.4,"v":0.277},{"k":"p","t":1960.9,"v":0.42},{"k":"p","t":1962.5,"v":0.402},{"k":"p","t":1964.1,"v":0.277},{"k":"p","t":1965.3,"v":0.491},{"k":"p","t":1966.4,"v":0.438},{"k":"p","t":1967.5,"v":0.598},{"k":"p","t":1968.8,"v":0.455},{"k":"p","t":1970.4,"v":0.348},{"k":"p","t":1971.9,"v":0.455},{"k":"p","t":1973.5,"v":0.473},{"k":"p","t":1976.7,"v":0.509},{"k":"p","t":1981.4,"v":0.563},{"k":"p","t":1986.1,"v":0.616},{"k":"p","t":1989.2,"v":0.661},{"k":"p","t":1994,"v":0.527},{"k":"p","t":1998.7,"v":0.42},{"k":"p","t":2003.4,"v":0.313},{"k":"p","t":2006.5,"v":0.223},{"k":"p","t":2008.4,"v":0.098},{"k":"p","t":2009.4,"v":0.009},{"k":"p","t":2010,"v":0}]
},
"spacing":4,
"vconcat":[
{"spacing":25,"bounds":"flush","hconcat":[
{"title":{"text":"PCB28","offset":5.5},"width":273,"height":188,"data":{"name":"NA_PCB28"},"encoding":{"x":{"field":"t","type":"quantitative","scale":{"domain":[1930,2080],"nice":false,"zero":false},"axis":{"values":[1940,1960,1980,2000,2020,2040,2060,2080],"labels":false,"title":null}},"y":{"field":"v","type":"quantitative","scale":{"domain":[0,1]},"axis":{"values":[0.2,0.4,0.6,0.8,1],"format":".1f","title":"North America"}}},
"layer":[
{"transform":[{"filter":"datum.k=='g'"}],"mark":{"type":"area","color":"#9cb47b","clip":true}},
{"transform":[{"filter":"datum.k=='s'"}],"mark":{"type":"area","color":"#d5b597","clip":true}},
{"transform":[{"filter":"datum.k=='p'"}],"mark":{"type":"area","color":"#b07d4b","clip":true}},
{"data":{"name":"labels"},"mark":{"type":"text","align":"left","baseline":"middle","fontSize":15,"color":"#333","font":"Liberation Sans"},"encoding":{"text":{"field":"label"}}}
]},
{"title":"PCB153","width":273,"height":188,"data":{"name":"NA_PCB153"},"encoding":{"x":{"field":"t","type":"quantitative","scale":{"domain":[1930,2080],"nice":false,"zero":false},"axis":{"values":[1940,1960,1980,2000,2020,2040,2060,2080],"labels":false,"title":null}},"y":{"field":"v","type":"quantitative","scale":{"domain":[0,1]},"axis":{"values":[0.2,0.4,0.6,0.8,1],"labels":false,"title":null}}},
"layer":[
{"transform":[{"filter":"datum.k=='g'"}],"mark":{"type":"area","color":"#9cb47b","clip":true}},
{"transform":[{"filter":"datum.k=='s'"}],"mark":{"type":"area","color":"#d5b597","clip":true}},
{"transform":[{"filter":"datum.k=='p'"}],"mark":{"type":"area","color":"#b07d4b","clip":true}}
]},
{"title":"α-HCH","width":273,"height":188,"data":{"name":"NA_aHCH"},"encoding":{"x":{"field":"t","type":"quantitative","scale":{"domain":[1950.3,2050.7],"nice":false,"zero":false},"axis":{"values":[1960,1980,2000,2020,2040],"labels":false,"title":null}},"y":{"field":"v","type":"quantitative","scale":{"domain":[0,1]},"axis":{"values":[0.2,0.4,0.6,0.8,1],"labels":false,"title":null}}},
"layer":[
{"transform":[{"filter":"datum.k=='g'"}],"mark":{"type":"area","color":"#9cb47b","clip":true}},
{"transform":[{"filter":"datum.k=='s'"}],"mark":{"type":"area","color":"#d5b597","clip":true}},
{"transform":[{"filter":"datum.k=='p'"}],"mark":{"type":"area","color":"#b07d4b","clip":true}}
]},
{"title":"β-HCH","width":261,"height":188,"data":{"name":"NA_bHCH"},"encoding":{"x":{"field":"t","type":"quantitative","scale":{"domain":[1950.2,2046.4],"nice":false,"zero":false},"axis":{"values":[1960,1980,2000,2020,2040],"labels":false,"title":null}},"y":{"field":"v","type":"quantitative","scale":{"domain":[0,1]},"axis":{"values":[0.2,0.4,0.6,0.8,1],"labels":false,"title":null}}},
"layer":[
{"transform":[{"filter":"datum.k=='g'"}],"mark":{"type":"area","color":"#9cb47b","clip":true}},
{"transform":[{"filter":"datum.k=='s'"}],"mark":{"type":"area","color":"#d5b597","clip":true}},
{"transform":[{"filter":"datum.k=='p'"}],"mark":{"type":"area","color":"#b07d4b","clip":true}}
]}
]},
{"spacing":25,"bounds":"flush","hconcat":[
{"width":273,"height":188,"data":{"name":"EU_PCB28"},"encoding":{"x":{"field":"t","type":"quantitative","scale":{"domain":[1930,2080],"nice":false,"zero":false},"axis":{"values":[1940,1960,1980,2000,2020,2040,2060,2080],"labels":false,"title":null}},"y":{"field":"v","type":"quantitative","scale":{"domain":[0,1]},"axis":{"values":[0.2,0.4,0.6,0.8,1],"format":".1f","title":"Europe"}}},
"layer":[
{"transform":[{"filter":"datum.k=='g'"}],"mark":{"type":"area","color":"#9cb47b","clip":true}},
{"transform":[{"filter":"datum.k=='s'"}],"mark":{"type":"area","color":"#d5b597","clip":true}},
{"transform":[{"filter":"datum.k=='p'"}],"mark":{"type":"area","color":"#b07d4b","clip":true}}
]},
{"width":273,"height":188,"data":{"name":"EU_PCB153"},"encoding":{"x":{"field":"t","type":"quantitative","scale":{"domain":[1930,2080],"nice":false,"zero":false},"axis":{"values":[1940,1960,1980,2000,2020,2040,2060,2080],"labels":false,"title":null}},"y":{"field":"v","type":"quantitative","scale":{"domain":[0,1]},"axis":{"values":[0.2,0.4,0.6,0.8,1],"labels":false,"title":null}}},
"layer":[
{"transform":[{"filter":"datum.k=='g'"}],"mark":{"type":"area","color":"#9cb47b","clip":true}},
{"transform":[{"filter":"datum.k=='s'"}],"mark":{"type":"area","color":"#d5b597","clip":true}},
{"transform":[{"filter":"datum.k=='p'"}],"mark":{"type":"area","color":"#b07d4b","clip":true}}
]},
{"width":273,"height":188,"data":{"name":"EU_aHCH"},"encoding":{"x":{"field":"t","type":"quantitative","scale":{"domain":[1950.3,2050.7],"nice":false,"zero":false},"axis":{"values":[1960,1980,2000,2020,2040],"labels":false,"title":null}},"y":{"field":"v","type":"quantitative","scale":{"domain":[0,1]},"axis":{"values":[0.2,0.4,0.6,0.8,1],"labels":false,"title":null}}},
"layer":[
{"transform":[{"filter":"datum.k=='g'"}],"mark":{"type":"area","color":"#9cb47b","clip":true}},
{"transform":[{"filter":"datum.k=='s'"}],"mark":{"type":"area","color":"#d5b597","clip":true}},
{"transform":[{"filter":"datum.k=='p'"}],"mark":{"type":"area","color":"#b07d4b","clip":true}}
]},
{"width":261,"height":188,"data":{"name":"EU_bHCH"},"encoding":{"x":{"field":"t","type":"quantitative","scale":{"domain":[1950.2,2046.4],"nice":false,"zero":false},"axis":{"values":[1960,1980,2000,2020,2040],"labels":false,"title":null}},"y":{"field":"v","type":"quantitative","scale":{"domain":[0,1]},"axis":{"values":[0.2,0.4,0.6,0.8,1],"labels":false,"title":null}}},
"layer":[
{"transform":[{"filter":"datum.k=='g'"}],"mark":{"type":"area","color":"#9cb47b","clip":true}},
{"transform":[{"filter":"datum.k=='s'"}],"mark":{"type":"area","color":"#d5b597","clip":true}},
{"transform":[{"filter":"datum.k=='p'"}],"mark":{"type":"area","color":"#b07d4b","clip":true}}
]}
]},
{"spacing":25,"bounds":"flush","hconcat":[
{"width":273,"height":188,"data":{"name":"EA_PCB28"},"encoding":{"x":{"field":"t","type":"quantitative","scale":{"domain":[1930,2080],"nice":false,"zero":false},"axis":{"values":[1940,1960,1980,2000,2020,2040,2060,2080],"labels":false,"title":null}},"y":{"field":"v","type":"quantitative","scale":{"domain":[0,1]},"axis":{"values":[0.2,0.4,0.6,0.8,1],"format":".1f","title":"East Asia"}}},
"layer":[
{"transform":[{"filter":"datum.k=='g'"}],"mark":{"type":"area","color":"#9cb47b","clip":true}},
{"transform":[{"filter":"datum.k=='s'"}],"mark":{"type":"area","color":"#d5b597","clip":true}},
{"transform":[{"filter":"datum.k=='p'"}],"mark":{"type":"area","color":"#b07d4b","clip":true}}
]},
{"width":273,"height":188,"data":{"name":"EA_PCB153"},"encoding":{"x":{"field":"t","type":"quantitative","scale":{"domain":[1930,2080],"nice":false,"zero":false},"axis":{"values":[1940,1960,1980,2000,2020,2040,2060,2080],"labels":false,"title":null}},"y":{"field":"v","type":"quantitative","scale":{"domain":[0,1]},"axis":{"values":[0.2,0.4,0.6,0.8,1],"labels":false,"title":null}}},
"layer":[
{"transform":[{"filter":"datum.k=='g'"}],"mark":{"type":"area","color":"#9cb47b","clip":true}},
{"transform":[{"filter":"datum.k=='s'"}],"mark":{"type":"area","color":"#d5b597","clip":true}},
{"transform":[{"filter":"datum.k=='p'"}],"mark":{"type":"area","color":"#b07d4b","clip":true}}
]},
{"width":273,"height":188,"data":{"name":"EA_aHCH"},"encoding":{"x":{"field":"t","type":"quantitative","scale":{"domain":[1950.3,2050.7],"nice":false,"zero":false},"axis":{"values":[1960,1980,2000,2020,2040],"labels":false,"title":null}},"y":{"field":"v","type":"quantitative","scale":{"domain":[0,1]},"axis":{"values":[0.2,0.4,0.6,0.8,1],"labels":false,"title":null}}},
"layer":[
{"transform":[{"filter":"datum.k=='g'"}],"mark":{"type":"area","color":"#9cb47b","clip":true}},
{"transform":[{"filter":"datum.k=='s'"}],"mark":{"type":"area","color":"#d5b597","clip":true}},
{"transform":[{"filter":"datum.k=='p'"}],"mark":{"type":"area","color":"#b07d4b","clip":true}}
]},
{"width":261,"height":188,"data":{"name":"EA_bHCH"},"encoding":{"x":{"field":"t","type":"quantitative","scale":{"domain":[1950.2,2046.4],"nice":false,"zero":false},"axis":{"values":[1960,1980,2000,2020,2040],"labels":false,"title":null}},"y":{"field":"v","type":"quantitative","scale":{"domain":[0,1]},"axis":{"values":[0.2,0.4,0.6,0.8,1],"labels":false,"title":null}}},
"layer":[
{"transform":[{"filter":"datum.k=='g'"}],"mark":{"type":"area","color":"#9cb47b","clip":true}},
{"transform":[{"filter":"datum.k=='s'"}],"mark":{"type":"area","color":"#d5b597","clip":true}},
{"transform":[{"filter":"datum.k=='p'"}],"mark":{"type":"area","color":"#b07d4b","clip":true}}
]}
]},
{"spacing":25,"bounds":"flush","hconcat":[
{"width":273,"height":188,"data":{"name":"SA_PCB28"},"encoding":{"x":{"field":"t","type":"quantitative","scale":{"domain":[1930,2080],"nice":false,"zero":false},"axis":{"values":[1940,1960,1980,2000,2020,2040,2060,2080],"format":"d","labelAngle":-45,"title":null}},"y":{"field":"v","type":"quantitative","scale":{"domain":[0,1]},"axis":{"values":[0.2,0.4,0.6,0.8,1],"format":".1f","title":"South Asia"}}},
"layer":[
{"transform":[{"filter":"datum.k=='g'"}],"mark":{"type":"area","color":"#9cb47b","clip":true}},
{"transform":[{"filter":"datum.k=='s'"}],"mark":{"type":"area","color":"#d5b597","clip":true}},
{"transform":[{"filter":"datum.k=='p'"}],"mark":{"type":"area","color":"#b07d4b","clip":true}}
]},
{"width":273,"height":188,"data":{"name":"SA_PCB153"},"encoding":{"x":{"field":"t","type":"quantitative","scale":{"domain":[1930,2080],"nice":false,"zero":false},"axis":{"values":[1940,1960,1980,2000,2020,2040,2060,2080],"format":"d","labelAngle":-45,"title":null}},"y":{"field":"v","type":"quantitative","scale":{"domain":[0,1]},"axis":{"values":[0.2,0.4,0.6,0.8,1],"labels":false,"title":null}}},
"layer":[
{"transform":[{"filter":"datum.k=='g'"}],"mark":{"type":"area","color":"#9cb47b","clip":true}},
{"transform":[{"filter":"datum.k=='s'"}],"mark":{"type":"area","color":"#d5b597","clip":true}},
{"transform":[{"filter":"datum.k=='p'"}],"mark":{"type":"area","color":"#b07d4b","clip":true}}
]},
{"width":273,"height":188,"data":{"name":"SA_aHCH"},"encoding":{"x":{"field":"t","type":"quantitative","scale":{"domain":[1950.3,2050.7],"nice":false,"zero":false},"axis":{"values":[1960,1980,2000,2020,2040],"format":"d","labelAngle":-45,"title":null}},"y":{"field":"v","type":"quantitative","scale":{"domain":[0,1]},"axis":{"values":[0.2,0.4,0.6,0.8,1],"labels":false,"title":null}}},
"layer":[
{"transform":[{"filter":"datum.k=='g'"}],"mark":{"type":"area","color":"#9cb47b","clip":true}},
{"transform":[{"filter":"datum.k=='s'"}],"mark":{"type":"area","color":"#d5b597","clip":true}},
{"transform":[{"filter":"datum.k=='p'"}],"mark":{"type":"area","color":"#b07d4b","clip":true}}
]},
{"width":261,"height":188,"data":{"name":"SA_bHCH"},"encoding":{"x":{"field":"t","type":"quantitative","scale":{"domain":[1950.2,2046.4],"nice":false,"zero":false},"axis":{"values":[1960,1980,2000,2020,2040],"format":"d","labelAngle":-45,"title":null}},"y":{"field":"v","type":"quantitative","scale":{"domain":[0,1]},"axis":{"values":[0.2,0.4,0.6,0.8,1],"labels":false,"title":null}}},
"layer":[
{"transform":[{"filter":"datum.k=='g'"}],"mark":{"type":"area","color":"#9cb47b","clip":true}},
{"transform":[{"filter":"datum.k=='s'"}],"mark":{"type":"area","color":"#d5b597","clip":true}},
{"transform":[{"filter":"datum.k=='p'"}],"mark":{"type":"area","color":"#b07d4b","clip":true}}
]}
]}
]
}
